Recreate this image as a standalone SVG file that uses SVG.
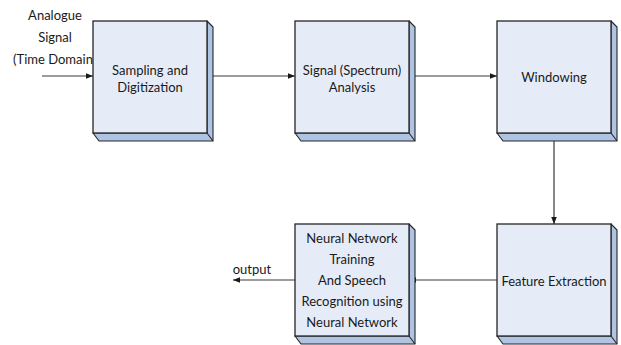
<svg xmlns="http://www.w3.org/2000/svg" width="621" height="345" viewBox="0 0 621 345">
<style>
.front{fill:#E6ECF7;stroke:#262626;stroke-width:1.3}
.side{fill:#AFC3E3;stroke:#262626;stroke-width:1.1;stroke-linejoin:round}
.t{font-family:Lato,"Open Sans",sans-serif;font-size:13px;fill:#1a1a1a;text-anchor:middle}
.c{fill:none;stroke:#3a3a3a;stroke-width:1.2}
</style>
<defs>
<marker id="ah" markerWidth="8" markerHeight="8" refX="7" refY="4" orient="auto" markerUnits="userSpaceOnUse">
<path d="M0,1.2 L7,4 L0,6.8 Z" fill="#1a1a1a"/>
</marker>
<g id="box3d">
<path class="side" d="M114,0 L120,6 L120,120 L6,120 L0,112 L114,112 Z"/>
<path class="side" d="M114,112 L120,120"/>
<rect class="front" x="0" y="0" width="114" height="112"/>
</g>
</defs>
<g id="connectors">
<line class="c" x1="42" y1="76" x2="93" y2="76" marker-end="url(#ah)"/>
<line class="c" x1="213" y1="76" x2="295" y2="76" marker-end="url(#ah)"/>
<line class="c" x1="415" y1="76" x2="497" y2="76" marker-end="url(#ah)"/>
<line class="c" x1="554" y1="133" x2="554" y2="224" marker-end="url(#ah)"/>
<line class="c" x1="497" y1="280" x2="409" y2="280" marker-end="url(#ah)"/>
<line class="c" x1="295" y1="280" x2="233" y2="280" marker-end="url(#ah)"/>
</g>
<g id="input-label">
<text class="t" x="55" y="20">Analogue</text>
<text class="t" x="55" y="42">Signal</text>
<text class="t" x="53" y="64">(Time Domain</text>
</g>
<g id="sampling">
<use href="#box3d" x="93" y="21"/>
<text class="t" x="150" y="75">Sampling and</text>
<text class="t" x="150" y="92">Digitization</text>
</g>
<g id="analysis">
<use href="#box3d" x="295" y="21"/>
<text class="t" x="352" y="75">Signal (Spectrum)</text>
<text class="t" x="352" y="92">Analysis</text>
</g>
<g id="windowing">
<use href="#box3d" x="497" y="21"/>
<text class="t" x="554" y="82">Windowing</text>
</g>
<g id="feature">
<use href="#box3d" x="497" y="224"/>
<text class="t" x="554" y="286">Feature Extraction</text>
</g>
<g id="neural">
<use href="#box3d" x="295" y="224"/>
<text class="t" x="352" y="243">Neural Network</text>
<text class="t" x="352" y="264">Training</text>
<text class="t" x="352" y="285">And Speech</text>
<text class="t" x="352" y="306">Recognition using</text>
<text class="t" x="352" y="327">Neural Network</text>
</g>
<g id="output-label">
<text class="t" x="252" y="274">output</text>
</g>
</svg>
